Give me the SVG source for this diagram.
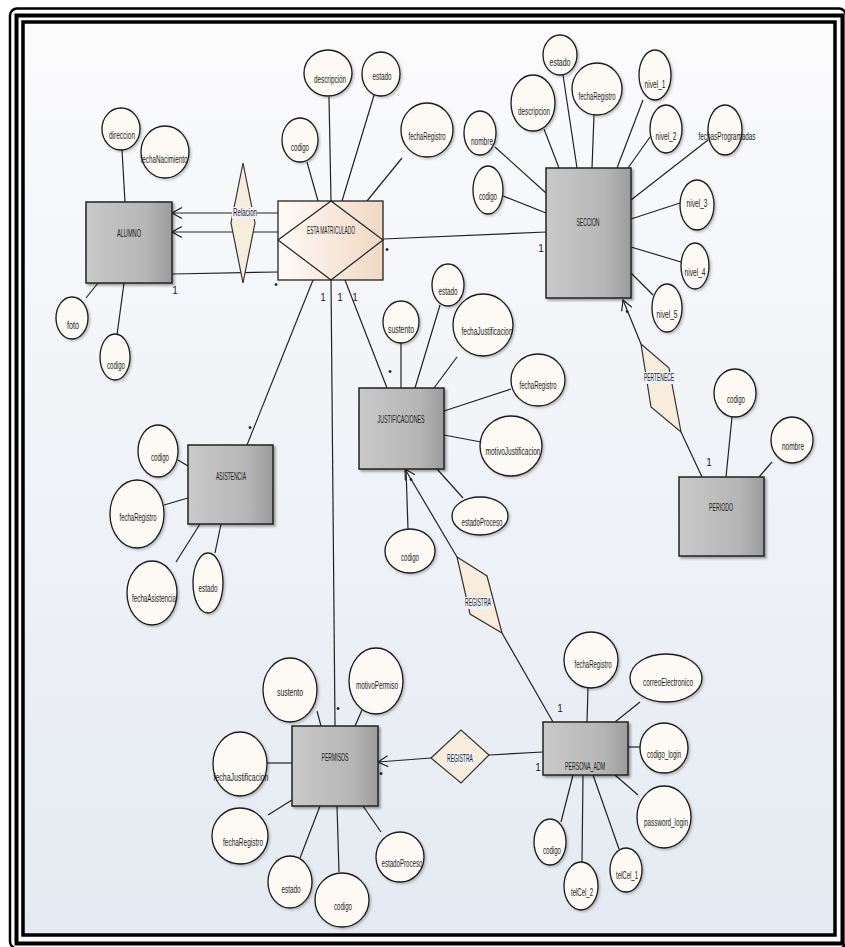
<svg xmlns="http://www.w3.org/2000/svg" width="845" height="947" viewBox="0 0 845 947">
<defs>
<linearGradient id="bg" x1="0" y1="0" x2="0" y2="1"><stop offset="0" stop-color="#fbfbfc"/><stop offset="1" stop-color="#e5eaf2"/></linearGradient>
<linearGradient id="gE" x1="0" y1="0" x2="1" y2="0"><stop offset="0" stop-color="#c9c9c9"/><stop offset="0.7" stop-color="#b6b6b6"/><stop offset="1" stop-color="#9c9c9c"/></linearGradient>
<linearGradient id="gR" x1="0" y1="0" x2="1" y2="0"><stop offset="0" stop-color="#fffbf7"/><stop offset="1" stop-color="#f1d8c5"/></linearGradient>
<filter id="sh" x="-20%" y="-20%" width="150%" height="150%"><feDropShadow dx="2" dy="2" stdDeviation="1.2" flood-color="#000" flood-opacity="0.35"/></filter>
<filter id="sh2" x="-20%" y="-20%" width="150%" height="150%"><feDropShadow dx="1.5" dy="1.5" stdDeviation="1" flood-color="#000" flood-opacity="0.25"/></filter>
<marker id="arr" viewBox="0 0 12 12" refX="11" refY="6" markerWidth="12" markerHeight="12" markerUnits="userSpaceOnUse" orient="auto"><path d="M1,0.5 L11,6 L1,11.5" fill="none" stroke="#222" stroke-width="1.2"/></marker>
</defs>
<style>
.e{fill:url(#gE);stroke:#222;stroke-width:1.5;filter:url(#sh)}
.a{fill:#fdfaf5;stroke:#1a1a1a;stroke-width:1.3;filter:url(#sh2)}
.d{fill:#f8ecdc;stroke:#333;stroke-width:1.2}
.t{font-family:"Liberation Sans Narrow","Liberation Sans",Arial,sans-serif;font-size:11px;fill:#1a1a1a;text-anchor:middle}
.m{font-family:"Liberation Sans",Arial,sans-serif;font-size:10px;fill:#1a1a1a;text-anchor:middle}
.lb{fill:#eef2f8}
#conn line{stroke:#222;stroke-width:1.2}
.fr{fill:none;stroke:#000}
</style>
<rect x="0" y="0" width="845" height="947" fill="#ffffff"/>
<rect x="24" y="23" width="810" height="911" fill="url(#bg)"/>
<rect class="fr" x="10" y="8.5" width="836" height="940" rx="7" stroke-width="2.5"/>
<rect class="fr" x="16.5" y="15.5" width="826" height="928" stroke-width="4"/>
<rect class="fr" x="23" y="22" width="812" height="913" stroke-width="3.5"/>

<g id="conn">
<line x1="122" y1="150" x2="125" y2="202"/>
<line x1="86" y1="298" x2="98" y2="283"/>
<line x1="117" y1="335" x2="124" y2="283"/>
<line x1="278" y1="213" x2="172" y2="213" marker-end="url(#arr)"/>
<line x1="278" y1="232" x2="172" y2="232" marker-end="url(#arr)"/>
<line x1="278" y1="272" x2="172" y2="274"/>
<line x1="307" y1="162" x2="318" y2="201"/>
<line x1="329" y1="97" x2="331" y2="201"/>
<line x1="375" y1="92" x2="342" y2="201"/>
<line x1="402" y1="158" x2="367" y2="201"/>
<line x1="383" y1="239" x2="546" y2="232"/>
<line x1="313" y1="280" x2="247" y2="445"/>
<line x1="331" y1="280" x2="335" y2="726"/>
<line x1="345" y1="280" x2="387" y2="388"/>
<line x1="503" y1="196" x2="546" y2="213"/>
<line x1="495" y1="147" x2="546" y2="193"/>
<line x1="544" y1="129" x2="559" y2="168"/>
<line x1="563" y1="75" x2="577" y2="168"/>
<line x1="594" y1="115" x2="592" y2="168"/>
<line x1="643" y1="100" x2="617" y2="168"/>
<line x1="650" y1="137" x2="628" y2="168"/>
<line x1="708" y1="140" x2="631" y2="200"/>
<line x1="680" y1="203" x2="631" y2="219"/>
<line x1="681" y1="262" x2="631" y2="247"/>
<line x1="653" y1="295" x2="631" y2="273"/>
<line x1="641" y1="344" x2="623" y2="300" marker-end="url(#arr)"/>
<line x1="681" y1="432" x2="702" y2="477"/>
<line x1="732" y1="417" x2="726" y2="477"/>
<line x1="772" y1="462" x2="759" y2="477"/>
<line x1="401" y1="343" x2="401" y2="388"/>
<line x1="440" y1="305" x2="415" y2="388"/>
<line x1="457" y1="357" x2="434" y2="388"/>
<line x1="511" y1="389" x2="444" y2="411"/>
<line x1="481" y1="442" x2="444" y2="435"/>
<line x1="463" y1="498" x2="437" y2="469"/>
<line x1="408" y1="529" x2="406" y2="469"/>
<line x1="457" y1="557" x2="405" y2="469" marker-end="url(#arr)"/>
<line x1="502" y1="633" x2="553" y2="722"/>
<line x1="178" y1="460" x2="188" y2="466"/>
<line x1="164" y1="505" x2="188" y2="498"/>
<line x1="176" y1="562" x2="200" y2="524"/>
<line x1="215" y1="553" x2="221" y2="524"/>
<line x1="317" y1="711" x2="321" y2="726"/>
<line x1="362" y1="710" x2="355" y2="726"/>
<line x1="267" y1="763" x2="292" y2="763"/>
<line x1="268" y1="815" x2="292" y2="800"/>
<line x1="300" y1="858" x2="320" y2="806"/>
<line x1="339" y1="872" x2="337" y2="806"/>
<line x1="381" y1="832" x2="363" y2="806"/>
<line x1="431" y1="758" x2="378" y2="762" marker-end="url(#arr)"/>
<line x1="489" y1="755" x2="543" y2="752"/>
<line x1="588" y1="688" x2="587" y2="722"/>
<line x1="640" y1="702" x2="615" y2="722"/>
<line x1="628" y1="747" x2="640" y2="747"/>
<line x1="638" y1="795" x2="615" y2="775"/>
<line x1="619" y1="849" x2="593" y2="775"/>
<line x1="582" y1="862" x2="583" y2="775"/>
<line x1="561" y1="822" x2="573" y2="775"/>
</g>

<g id="cardinalities">
<text class="m" x="175" y="294">1</text>
<text class="m" x="276" y="288">•</text>
<text class="m" x="387" y="253">•</text>
<text class="m" x="541" y="252">1</text>
<text class="m" x="323" y="301">1</text>
<text class="m" x="340" y="301">1</text>
<text class="m" x="355" y="301">1</text>
<text class="m" x="250" y="431">•</text>
<text class="m" x="390" y="375">•</text>
<text class="m" x="411" y="483">•</text>
<text class="m" x="627" y="315">•</text>
<text class="m" x="709" y="466">1</text>
<text class="m" x="338" y="712">•</text>
<text class="m" x="381" y="777">•</text>
<text class="m" x="560" y="712">1</text>
<text class="m" x="538" y="771">1</text>
</g>

<g id="alumno">
<rect class="e" x="86" y="202" width="86" height="81"/>
<text class="t" x="129" y="237" textLength="24" lengthAdjust="spacingAndGlyphs">ALUMNO</text>
</g>
<g id="alumno-direccion"><ellipse class="a" cx="121" cy="129" rx="19" ry="21"/><text class="t" x="122" y="139" textLength="26" lengthAdjust="spacingAndGlyphs">direccion</text></g>
<g id="alumno-fechaNacimiento"><ellipse class="a" cx="165" cy="152" rx="24" ry="26"/><text class="t" x="164" y="163" textLength="47" lengthAdjust="spacingAndGlyphs">fechaNacimiento</text></g>
<g id="alumno-foto"><ellipse class="a" cx="72" cy="318" rx="16" ry="21"/><text class="t" x="73" y="329" textLength="12" lengthAdjust="spacingAndGlyphs">foto</text></g>
<g id="alumno-codigo"><ellipse class="a" cx="115" cy="357" rx="15" ry="23"/><text class="t" x="116" y="369" textLength="18" lengthAdjust="spacingAndGlyphs">codigo</text></g>

<g id="relacion">
<polygon class="d" points="243,163 255,223 243,283 231,223"/>
<rect class="lb" x="232" y="207" width="25" height="12"/>
<text class="t" x="245" y="216" textLength="24" lengthAdjust="spacingAndGlyphs">Relacion</text>
</g>

<g id="esta-matriculado">
<rect x="278" y="201" width="105" height="79" fill="url(#gR)" stroke="#222" stroke-width="1.3"/>
<polygon points="331,201 383,240 331,280 278,240" fill="none" stroke="#222" stroke-width="1.2"/>
<text class="t" x="331" y="234" textLength="48" lengthAdjust="spacingAndGlyphs">ESTA MATRICULADO</text>
</g>
<g id="em-codigo"><ellipse class="a" cx="300" cy="140" rx="18" ry="22"/><text class="t" x="300" y="151" textLength="18" lengthAdjust="spacingAndGlyphs">codigo</text></g>
<g id="em-descripcion"><ellipse class="a" cx="328" cy="73" rx="24" ry="23"/><text class="t" x="330" y="83" textLength="32" lengthAdjust="spacingAndGlyphs">descripción</text></g>
<g id="em-estado"><ellipse class="a" cx="381" cy="74" rx="19" ry="22"/><text class="t" x="382" y="80" textLength="19" lengthAdjust="spacingAndGlyphs">estado</text></g>
<g id="em-fechaRegistro"><ellipse class="a" cx="427" cy="130" rx="26" ry="27"/><text class="t" x="427" y="140" textLength="37" lengthAdjust="spacingAndGlyphs">fechaRegistro</text></g>

<g id="seccion">
<rect class="e" x="546" y="168" width="85" height="130"/>
<text class="t" x="588" y="226" textLength="23" lengthAdjust="spacingAndGlyphs">SECCION</text>
</g>
<g id="sec-nombre"><ellipse class="a" cx="480" cy="133" rx="16" ry="22"/><text class="t" x="482" y="145" textLength="22" lengthAdjust="spacingAndGlyphs">nombre</text></g>
<g id="sec-codigo"><ellipse class="a" cx="488" cy="190" rx="15" ry="24"/><text class="t" x="488" y="200" textLength="18" lengthAdjust="spacingAndGlyphs">codigo</text></g>
<g id="sec-descripcion"><ellipse class="a" cx="533" cy="103" rx="22" ry="28"/><text class="t" x="534" y="115" textLength="32" lengthAdjust="spacingAndGlyphs">descripcion</text></g>
<g id="sec-estado"><ellipse class="a" cx="560" cy="55" rx="17" ry="20"/><text class="t" x="560" y="66" textLength="21" lengthAdjust="spacingAndGlyphs">estado</text></g>
<g id="sec-fechaRegistro"><ellipse class="a" cx="597" cy="89" rx="25" ry="26"/><text class="t" x="597" y="100" textLength="37" lengthAdjust="spacingAndGlyphs">fechaRegistro</text></g>
<g id="sec-nivel1"><ellipse class="a" cx="655" cy="75" rx="16" ry="25"/><text class="t" x="655" y="88" textLength="21" lengthAdjust="spacingAndGlyphs">nivel_1</text></g>
<g id="sec-nivel2"><ellipse class="a" cx="666" cy="129" rx="16" ry="24"/><text class="t" x="666" y="140" textLength="21" lengthAdjust="spacingAndGlyphs">nivel_2</text></g>
<g id="sec-fechasProgramadas"><ellipse class="a" cx="725" cy="130" rx="17" ry="25"/><text class="t" x="727" y="140" textLength="57" lengthAdjust="spacingAndGlyphs">fechasProgramadas</text></g>
<g id="sec-nivel3"><ellipse class="a" cx="697" cy="205" rx="17" ry="25"/><text class="t" x="697" y="207" textLength="21" lengthAdjust="spacingAndGlyphs">nivel_3</text></g>
<g id="sec-nivel4"><ellipse class="a" cx="695" cy="266" rx="14" ry="23"/><text class="t" x="695" y="276" textLength="21" lengthAdjust="spacingAndGlyphs">nivel_4</text></g>
<g id="sec-nivel5"><ellipse class="a" cx="667" cy="308" rx="15" ry="24"/><text class="t" x="667" y="318" textLength="21" lengthAdjust="spacingAndGlyphs">nivel_5</text></g>

<g id="pertenece">
<polygon class="d" points="641,344 669,368 681,432 651,407"/>
<rect class="lb" x="643" y="372" width="32" height="12"/>
<text class="t" x="659" y="381" textLength="30" lengthAdjust="spacingAndGlyphs">PERTENECE</text>
</g>

<g id="periodo">
<rect class="e" x="679" y="477" width="85" height="79"/>
<text class="t" x="721" y="511" textLength="24" lengthAdjust="spacingAndGlyphs">PERIODO</text>
</g>
<g id="per-codigo"><ellipse class="a" cx="735" cy="393" rx="21" ry="24"/><text class="t" x="736" y="403" textLength="18" lengthAdjust="spacingAndGlyphs">codigo</text></g>
<g id="per-nombre"><ellipse class="a" cx="792" cy="440" rx="21" ry="23"/><text class="t" x="793" y="450" textLength="22" lengthAdjust="spacingAndGlyphs">nombre</text></g>

<g id="justificaciones">
<rect class="e" x="359" y="388" width="85" height="81"/>
<text class="t" x="401" y="423" textLength="47" lengthAdjust="spacingAndGlyphs">JUSTIFICACIONES</text>
</g>
<g id="jus-sustento"><ellipse class="a" cx="401" cy="322" rx="18" ry="21"/><text class="t" x="401" y="333" textLength="26" lengthAdjust="spacingAndGlyphs">sustento</text></g>
<g id="jus-estado"><ellipse class="a" cx="448" cy="285" rx="16" ry="21"/><text class="t" x="448" y="295" textLength="19" lengthAdjust="spacingAndGlyphs">estado</text></g>
<g id="jus-fechaJustificacion"><ellipse class="a" cx="483" cy="325" rx="30" ry="31"/><text class="t" x="487" y="335" textLength="51" lengthAdjust="spacingAndGlyphs">fechaJustificacion</text></g>
<g id="jus-fechaRegistro"><ellipse class="a" cx="538" cy="380" rx="27" ry="26"/><text class="t" x="538" y="389" textLength="37" lengthAdjust="spacingAndGlyphs">fechaRegistro</text></g>
<g id="jus-motivoJustificacion"><ellipse class="a" cx="511" cy="446" rx="31" ry="30"/><text class="t" x="513" y="455" textLength="55" lengthAdjust="spacingAndGlyphs">motivoJustificacion</text></g>
<g id="jus-estadoProceso"><ellipse class="a" cx="480" cy="516" rx="28" ry="19"/><text class="t" x="482" y="526" textLength="41" lengthAdjust="spacingAndGlyphs">estadoProceso</text></g>
<g id="jus-codigo"><ellipse class="a" cx="410" cy="551" rx="25" ry="22"/><text class="t" x="410" y="561" textLength="18" lengthAdjust="spacingAndGlyphs">codigo</text></g>

<g id="registra-just">
<polygon class="d" points="457,557 487,576 502,633 470,614"/>
<rect class="lb" x="464" y="597" width="28" height="12"/>
<text class="t" x="478" y="606" textLength="26" lengthAdjust="spacingAndGlyphs">REGISTRA</text>
</g>

<g id="asistencia">
<rect class="e" x="188" y="445" width="85" height="79"/>
<text class="t" x="231" y="480" textLength="30" lengthAdjust="spacingAndGlyphs">ASISTENCIA</text>
</g>
<g id="asi-codigo"><ellipse class="a" cx="158" cy="451" rx="20" ry="26"/><text class="t" x="160" y="461" textLength="18" lengthAdjust="spacingAndGlyphs">codigo</text></g>
<g id="asi-fechaRegistro"><ellipse class="a" cx="137" cy="514" rx="27" ry="34"/><text class="t" x="138" y="521" textLength="37" lengthAdjust="spacingAndGlyphs">fechaRegistro</text></g>
<g id="asi-fechaAsistencia"><ellipse class="a" cx="152" cy="593" rx="25" ry="32"/><text class="t" x="154" y="602" textLength="44" lengthAdjust="spacingAndGlyphs">fechaAsistencia</text></g>
<g id="asi-estado"><ellipse class="a" cx="208" cy="583" rx="15" ry="30"/><text class="t" x="208" y="592" textLength="19" lengthAdjust="spacingAndGlyphs">estado</text></g>

<g id="permisos">
<rect class="e" x="292" y="726" width="86" height="80"/>
<text class="t" x="335" y="761" textLength="27" lengthAdjust="spacingAndGlyphs">PERMISOS</text>
</g>
<g id="prm-sustento"><ellipse class="a" cx="290" cy="690" rx="27" ry="32"/><text class="t" x="290" y="696" textLength="26" lengthAdjust="spacingAndGlyphs">sustento</text></g>
<g id="prm-motivoPermiso"><ellipse class="a" cx="376" cy="681" rx="27" ry="33"/><text class="t" x="377" y="689" textLength="42" lengthAdjust="spacingAndGlyphs">motivoPermiso</text></g>
<g id="prm-fechaJustificacion"><ellipse class="a" cx="240" cy="764" rx="27" ry="32"/><text class="t" x="241" y="781" textLength="55" lengthAdjust="spacingAndGlyphs">fechaJustificacion</text></g>
<g id="prm-fechaRegistro"><ellipse class="a" cx="240" cy="836" rx="28" ry="28"/><text class="t" x="243" y="846" textLength="40" lengthAdjust="spacingAndGlyphs">fechaRegistro</text></g>
<g id="prm-estado"><ellipse class="a" cx="290" cy="882" rx="22" ry="26"/><text class="t" x="291" y="893" textLength="19" lengthAdjust="spacingAndGlyphs">estado</text></g>
<g id="prm-codigo"><ellipse class="a" cx="342" cy="900" rx="27" ry="27"/><text class="t" x="343" y="910" textLength="18" lengthAdjust="spacingAndGlyphs">codigo</text></g>
<g id="prm-estadoProceso"><ellipse class="a" cx="400" cy="857" rx="24" ry="25"/><text class="t" x="402" y="867" textLength="41" lengthAdjust="spacingAndGlyphs">estadoProceso</text></g>

<g id="registra-perm">
<polygon class="d" points="431,758 461,730 489,755 461,783"/>
<rect class="lb" x="446" y="753" width="28" height="12"/>
<text class="t" x="460" y="762" textLength="26" lengthAdjust="spacingAndGlyphs">REGISTRA</text>
</g>

<g id="persona-adm">
<rect class="e" x="543" y="722" width="85" height="53"/>
<text class="t" x="585" y="770" textLength="40" lengthAdjust="spacingAndGlyphs">PERSONA_ADM</text>
</g>
<g id="pa-fechaRegistro"><ellipse class="a" cx="591" cy="660" rx="27" ry="28"/><text class="t" x="593" y="668" textLength="37" lengthAdjust="spacingAndGlyphs">fechaRegistro</text></g>
<g id="pa-correo"><ellipse class="a" cx="666" cy="678" rx="36" ry="24"/><text class="t" x="668" y="686" textLength="50" lengthAdjust="spacingAndGlyphs">correoElectronico</text></g>
<g id="pa-codigo-login"><ellipse class="a" cx="664" cy="748" rx="24" ry="25"/><text class="t" x="664" y="758" textLength="34" lengthAdjust="spacingAndGlyphs">codigo_login</text></g>
<g id="pa-password"><ellipse class="a" cx="664" cy="817" rx="27" ry="31"/><text class="t" x="666" y="826" textLength="44" lengthAdjust="spacingAndGlyphs">password_login</text></g>
<g id="pa-telCel1"><ellipse class="a" cx="626" cy="870" rx="16" ry="22"/><text class="t" x="627" y="879" textLength="22" lengthAdjust="spacingAndGlyphs">telCel_1</text></g>
<g id="pa-telCel2"><ellipse class="a" cx="581" cy="886" rx="17" ry="24"/><text class="t" x="582" y="896" textLength="22" lengthAdjust="spacingAndGlyphs">telCel_2</text></g>
<g id="pa-codigo"><ellipse class="a" cx="550" cy="842" rx="16" ry="23"/><text class="t" x="552" y="854" textLength="18" lengthAdjust="spacingAndGlyphs">codigo</text></g>
</svg>
